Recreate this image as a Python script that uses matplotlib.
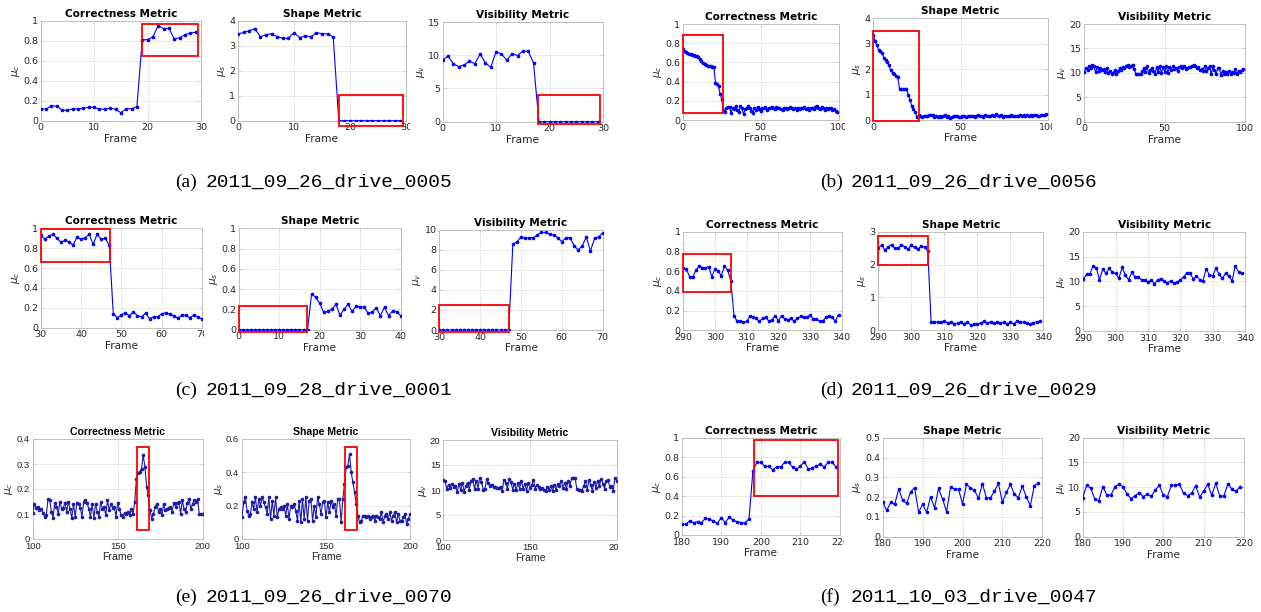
import numpy as np
import matplotlib
matplotlib.use('Agg')
import matplotlib.pyplot as plt
from matplotlib.patches import Rectangle
from matplotlib.ticker import FuncFormatter
from matplotlib.transforms import Bbox

W, H = 1261, 612

# (a) 2011_09_26_drive_0005, frames 0..29
a_corr = [0.12, 0.115, 0.15, 0.145, 0.105, 0.105, 0.12, 0.115, 0.125, 0.135,
          0.135, 0.115, 0.115, 0.125, 0.115, 0.08, 0.12, 0.12, 0.14, 0.81,
          0.81, 0.84, 0.95, 0.92, 0.925, 0.815, 0.83, 0.86, 0.875, 0.885]
a_shape = [3.47, 3.53, 3.6, 3.68, 3.36, 3.44, 3.48, 3.36, 3.3, 3.3,
           3.52, 3.32, 3.4, 3.35, 3.52, 3.48, 3.47, 3.35, 0, 0,
           0, 0, 0, 0, 0, 0, 0, 0, 0, 0]
a_vis = [9.25, 9.9, 8.7, 8.3, 8.5, 9.15, 8.7, 10.2, 8.8, 8.2,
         10.55, 10.2, 9.25, 10.25, 9.95, 10.6, 10.6, 8.85, 0, 0,
         0, 0, 0, 0, 0, 0, 0, 0, 0, 0]

# (b) 2011_09_26_drive_0056, frames 0..99
b_corr = [0.735, 0.72, 0.71, 0.70, 0.69, 0.685, 0.68, 0.675, 0.67, 0.665,
          0.66, 0.64, 0.61, 0.59, 0.58, 0.57, 0.565, 0.56, 0.56, 0.555,
          0.55, 0.39, 0.37, 0.35, 0.27, 0.22, 0.10, 0.08, 0.12, 0.14,
          0.14, 0.07, 0.13, 0.11, 0.145, 0.10, 0.08, 0.145, 0.12, 0.06,
          0.11, 0.13, 0.15, 0.12, 0.09, 0.07, 0.12, 0.10, 0.14, 0.11,
          0.09, 0.13, 0.12, 0.14, 0.10, 0.13, 0.12, 0.14, 0.13, 0.11,
          0.14, 0.12, 0.13, 0.11, 0.10, 0.12, 0.13, 0.11, 0.12, 0.14,
          0.12, 0.11, 0.13, 0.10, 0.12, 0.11, 0.13, 0.12, 0.14, 0.11,
          0.12, 0.10, 0.13, 0.12, 0.11, 0.14, 0.15, 0.12, 0.11, 0.14,
          0.13, 0.10, 0.12, 0.11, 0.13, 0.12, 0.10, 0.11, 0.09, 0.08]
b_shape = [3.35, 3.10, 2.95, 2.75, 2.70, 2.65, 2.45, 2.35, 2.30, 2.15,
           1.95, 1.85, 1.80, 1.72, 1.70, 1.22, 1.22, 1.22, 1.20, 1.20,
           1.00, 0.80, 0.55, 0.42, 0.30, 0.10, 0.18, 0.15, 0.12, 0.16,
           0.14, 0.15, 0.18, 0.20, 0.19, 0.12, 0.14, 0.13, 0.15, 0.10,
           0.14, 0.18, 0.12, 0.16, 0.08, 0.13, 0.17, 0.14, 0.15, 0.12,
           0.10, 0.14, 0.16, 0.13, 0.15, 0.17, 0.14, 0.16, 0.12, 0.15,
           0.18, 0.14, 0.16, 0.13, 0.19, 0.15, 0.17, 0.14, 0.20, 0.16,
           0.22, 0.18, 0.15, 0.19, 0.13, 0.16, 0.14, 0.17, 0.15, 0.18,
           0.16, 0.14, 0.17, 0.15, 0.18, 0.16, 0.19, 0.17, 0.20, 0.15,
           0.18, 0.16, 0.19, 0.21, 0.17, 0.15, 0.18, 0.20, 0.19, 0.22]
b_vis = [10.2, 10.9, 10.5, 11.4, 11.0, 11.6, 11.4, 10.1, 11.2, 10.4,
         11.0, 10.6, 10.8, 10.1, 10.9, 9.9, 10.3, 9.7, 10.0, 10.5,
         9.8, 10.3, 10.9, 10.6, 11.2, 10.9, 11.3, 11.6, 11.2, 11.5,
         11.6, 10.8, 9.8, 9.8, 9.8, 9.7, 10.4, 10.9, 10.2, 11.3,
         9.9, 10.6, 11.0, 10.3, 9.8, 11.1, 10.2, 11.3, 9.9, 11.2,
         10.1, 11.4, 10.0, 11.2, 10.6, 11.4, 10.8, 11.0, 10.4, 11.1,
         11.3, 10.9, 11.4, 10.7, 11.0, 11.2, 11.1, 11.5, 11.6, 11.3,
         11.0, 11.1, 10.5, 10.8, 10.4, 11.5, 10.3, 10.9, 11.4, 9.7,
         11.3, 10.5, 9.8, 10.9, 11.0, 9.6, 10.4, 9.7, 10.1, 9.8,
         10.3, 9.7, 10.2, 9.9, 10.7, 9.8, 10.4, 10.1, 10.5, 10.7]

# (c) 2011_09_28_drive_0001, frames 30..70 (shape 0..40)
c_corr = [0.93, 0.89, 0.92, 0.94, 0.90, 0.86, 0.88, 0.866, 0.83, 0.91,
          0.89, 0.906, 0.94, 0.84, 0.94, 0.89, 0.90, 0.83, 0.14, 0.10,
          0.13, 0.15, 0.12, 0.16, 0.12, 0.11, 0.145, 0.09, 0.11, 0.11,
          0.14, 0.15, 0.135, 0.12, 0.095, 0.125, 0.125, 0.10, 0.13, 0.105,
          0.09]
c_shape = [0, 0, 0, 0, 0, 0, 0, 0, 0, 0,
           0, 0, 0, 0, 0, 0, 0, 0, 0.355, 0.32,
           0.26, 0.17, 0.18, 0.2, 0.25, 0.145, 0.2, 0.25, 0.18, 0.234,
           0.224, 0.224, 0.16, 0.178, 0.21, 0.138, 0.224, 0.138, 0.184, 0.178,
           0.138]
c_vis = [0, 0, 0, 0, 0, 0, 0, 0, 0, 0,
         0, 0, 0, 0, 0, 0, 0, 0, 8.54, 8.8,
         9.27, 9.14, 9.2, 9.2, 9.47, 9.73, 9.73, 9.53, 9.47, 9.2,
         8.8, 9.2, 9.2, 8.4, 7.97, 8.4, 9.27, 7.87, 9.14, 9.3,
         9.67]

# (d) 2011_09_26_drive_0029, frames 290..339
d_corr = [0.63, 0.62, 0.54, 0.54, 0.61, 0.65, 0.635, 0.635, 0.645, 0.545,
          0.62, 0.60, 0.555, 0.65, 0.61, 0.50, 0.15, 0.09, 0.09, 0.085,
          0.09, 0.14, 0.13, 0.12, 0.09, 0.12, 0.13, 0.095, 0.105, 0.15,
          0.095, 0.15, 0.115, 0.105, 0.12, 0.09, 0.12, 0.14, 0.13, 0.13,
          0.155, 0.115, 0.115, 0.095, 0.095, 0.13, 0.15, 0.13, 0.095, 0.16]
d_shape = [2.51, 2.59, 2.44, 2.54, 2.61, 2.49, 2.49, 2.61, 2.54, 2.46,
           2.59, 2.52, 2.46, 2.57, 2.52, 2.42, 0.24, 0.24, 0.26, 0.24,
           0.28, 0.21, 0.26, 0.19, 0.22, 0.25, 0.2, 0.24, 0.17, 0.18,
           0.19, 0.22, 0.27, 0.21, 0.26, 0.23, 0.24, 0.22, 0.24, 0.18,
           0.24, 0.2, 0.27, 0.25, 0.25, 0.21, 0.19, 0.23, 0.26, 0.27]
d_vis = [10.4, 11.4, 11.4, 13.1, 12.75, 10.3, 12.5, 11.6, 12.6, 11.8,
         11.6, 10.6, 12.8, 11.3, 10.3, 11.8, 10.9, 10.9, 10.3, 10.2,
         9.8, 10.3, 9.5, 10.3, 10.5, 10.1, 9.7, 10.1, 9.7, 9.8,
         10.3, 10.9, 11.7, 11.7, 10.4, 11.1, 10.3, 10.1, 12.5, 11.3,
         11.1, 12.6, 11.4, 10.6, 11.6, 11.1, 10.1, 13.1, 11.9, 11.7]

# (e) 2011_09_26_drive_0070, frames 100..200
e_corr = [0.105, 0.14, 0.125, 0.13, 0.115, 0.12, 0.105, 0.09, 0.095, 0.16,
          0.155, 0.11, 0.085, 0.145, 0.13, 0.10, 0.15, 0.12, 0.125, 0.145,
          0.11, 0.15, 0.12, 0.085, 0.14, 0.09, 0.145, 0.14, 0.125, 0.09,
          0.15, 0.155, 0.145, 0.12, 0.09, 0.14, 0.085, 0.14, 0.11, 0.09,
          0.15, 0.12, 0.13, 0.095, 0.155, 0.115, 0.14, 0.125, 0.13, 0.09,
          0.145, 0.12, 0.095, 0.09, 0.105, 0.10, 0.11, 0.095, 0.12, 0.10,
          0.147, 0.24, 0.265, 0.27, 0.28, 0.335, 0.29, 0.21, 0.175, 0.115,
          0.08, 0.10, 0.13, 0.14, 0.11, 0.12, 0.095, 0.14, 0.115, 0.12,
          0.125, 0.13, 0.11, 0.145, 0.13, 0.145, 0.15, 0.10, 0.155, 0.12,
          0.11, 0.145, 0.16, 0.12, 0.14, 0.155, 0.15, 0.16, 0.10, 0.10,
          0.10]
e_shape = [0.13, 0.22, 0.25, 0.17, 0.14, 0.15, 0.22, 0.18, 0.25, 0.16,
           0.24, 0.20, 0.25, 0.22, 0.19, 0.15, 0.25, 0.12, 0.23, 0.14,
           0.25, 0.13, 0.18, 0.19, 0.18, 0.20, 0.14, 0.21, 0.12, 0.20,
           0.19, 0.21, 0.17, 0.11, 0.23, 0.10, 0.24, 0.12, 0.25, 0.11,
           0.23, 0.24, 0.11, 0.20, 0.13, 0.25, 0.21, 0.15, 0.22, 0.23,
           0.13, 0.22, 0.16, 0.23, 0.19, 0.21, 0.14, 0.24, 0.24, 0.10,
           0.24, 0.33, 0.43, 0.44, 0.51, 0.40, 0.34, 0.28, 0.21, 0.14,
           0.10, 0.11, 0.14, 0.14, 0.13, 0.14, 0.12, 0.13, 0.14, 0.11,
           0.14, 0.13, 0.12, 0.16, 0.10, 0.14, 0.15, 0.12, 0.16, 0.11,
           0.14, 0.16, 0.10, 0.15, 0.11, 0.11, 0.13, 0.15, 0.09, 0.12,
           0.15]
e_vis = [12.0, 11.9, 10.2, 11.1, 10.5, 11.3, 10.6, 10.9, 9.6, 11.3,
         10.0, 11.5, 9.7, 10.8, 11.5, 10.1, 11.8, 12.2, 10.2, 11.9,
         10.3, 12.5, 11.7, 10.1, 10.3, 12.2, 11.4, 10.9, 11.1, 10.6,
         10.7, 10.5, 10.5, 10.7, 9.9, 12.1, 11.4, 10.3, 12.2, 11.6,
         10.1, 11.3, 10.0, 11.4, 10.3, 11.9, 10.2, 11.3, 9.9, 11.4,
         10.4, 11.0, 12.1, 10.3, 11.1, 10.6, 10.2, 10.5, 10.0, 9.8,
         10.7, 10.1, 10.9, 9.8, 11.1, 10.0, 11.2, 10.8, 11.9, 10.4,
         11.5, 10.2, 11.9, 10.8, 12.4, 12.5, 12.5, 10.2, 10.0, 10.0,
         9.9, 10.8, 11.9, 10.0, 12.1, 11.0, 9.8, 11.7, 10.4, 11.9,
         10.8, 12.3, 11.3, 10.3, 11.8, 12.0, 10.6, 10.9, 9.9, 12.4,
         11.9]

# (f) 2011_10_03_drive_0047, frames 180..219
f_corr = [0.11, 0.11, 0.145, 0.127, 0.137, 0.127, 0.171, 0.164, 0.144, 0.12,
          0.178, 0.127, 0.185, 0.15, 0.137, 0.127, 0.127, 0.164, 0.66, 0.746,
          0.746, 0.705, 0.705, 0.67, 0.70, 0.70, 0.746, 0.746, 0.70, 0.675,
          0.71, 0.753, 0.675, 0.69, 0.71, 0.726, 0.70, 0.746, 0.746, 0.70]
f_shape = [0.177, 0.133, 0.173, 0.163, 0.24, 0.185, 0.168, 0.227, 0.247, 0.123,
           0.163, 0.123, 0.202, 0.146, 0.244, 0.19, 0.126, 0.249, 0.24, 0.24,
           0.165, 0.264, 0.247, 0.234, 0.194, 0.268, 0.194, 0.197, 0.23, 0.27,
           0.173, 0.224, 0.264, 0.215, 0.197, 0.256, 0.2, 0.157, 0.258, 0.27]
f_vis = [7.9, 10.4, 9.8, 7.6, 7.3, 10.1, 8.4, 8.4, 10.1, 10.6,
         10.1, 8.6, 7.7, 8.3, 8.9, 8.1, 8.55, 8.2, 9.4, 10.4,
         8.4, 8.1, 10.4, 10.4, 10.6, 8.75, 8.3, 8.75, 10.3, 8.0,
         9.2, 10.6, 8.4, 10.8, 8.2, 8.2, 10.7, 9.6, 9.2, 10.1]

# highlighted regions (x0, x1, y0, y1) in data units
a_boxes = [(19, 29.4, 0.65, 0.97), (18, 29.5, -0.2, 1.03), (17.8, 29.4, -0.3, 4.05)]
b_boxes = [(0, 25.6, 0.07, 0.89), (0, 26.3, -0.03, 3.49), None]
c_boxes = [(30, 47.2, 0.66, 0.99), (0, 16.9, -0.026, 0.237), (30, 47, -0.23, 2.49)]
d_boxes = [(290, 305.2, 0.39, 0.777), (290, 305.2, 1.99, 2.88), None]
e_boxes = [(161.6, 168.2, 0.035, 0.37), (161.5, 168.3, 0.054, 0.554), None]
f_boxes = [(198.2, 219.6, 0.397, 0.98), None, None]

captions = [('(a)', '2011_09_26_drive_0005'), ('(b)', '2011_09_26_drive_0056'),
            ('(c)', '2011_09_28_drive_0001'), ('(d)', '2011_09_26_drive_0029'),
            ('(e)', '2011_09_26_drive_0070'), ('(f)', '2011_10_03_drive_0047')]

titles = ['Correctness Metric', 'Shape Metric', 'Visibility Metric']
ylabels = [r'$\mu_c$', r'$\mu_s$', r'$\mu_v$']


def fmt(v, pos):
    return '%g' % round(v, 6)


def panel(fig, box, y, x0, xticks, yticks, rbox, clip=None, color='#0000ff', font='DejaVu Sans', k=0):
    l, t, r, b = box
    ax = fig.add_axes([l / W, 1 - b / H, (r - l) / W, (b - t) / H])
    x = x0 + np.arange(len(y))
    ax.plot(x, y, '-', color=color, lw=0.8, marker='.', ms=3.2, zorder=3)
    ax.set_xlim(xticks[0], xticks[-1])
    ax.set_ylim(yticks[0], yticks[-1])
    ax.set_xticks(xticks)
    ax.set_yticks(yticks)
    ax.xaxis.set_major_formatter(FuncFormatter(fmt))
    ax.yaxis.set_major_formatter(FuncFormatter(fmt))
    ax.grid(True, color='#e6e6e6', lw=0.6)
    ax.set_axisbelow(True)
    for s in ax.spines.values():
        s.set_color('#c0c0c0')
        s.set_linewidth(0.7)
    ax.tick_params(direction='in', length=2, width=0.5, color='#c0c0c0',
                   labelcolor='#262626', labelsize=6.8, pad=2, top=True, right=True)
    for lab in ax.get_xticklabels() + ax.get_yticklabels():
        lab.set_family(font)
    ax.set_title(titles[k], fontsize=7.6, fontweight='bold', pad=3, family=font)
    ax.set_xlabel('Frame', fontsize=7.6, labelpad=1, color='#262626', family=font)
    ax.set_ylabel(ylabels[k], fontsize=7.6, labelpad=1, color='#262626')
    if rbox is not None:
        ax.add_patch(Rectangle((rbox[0], rbox[2]), rbox[1] - rbox[0], rbox[3] - rbox[2],
                               fill=False, ec='#ff0000', lw=1.3, clip_on=False, zorder=5))
    if clip is not None:
        for lab in ax.get_xticklabels():
            lab.set_clip_box(Bbox([[0, 0], [clip, H]]))
            lab.set_clip_on(True)
    return ax


fig = plt.figure(figsize=(W / 100, H / 100), dpi=100)

# (a)
panel(fig, (40.7, 20.7, 201, 120.7), a_corr, 0, [0, 10, 20, 30], [0, 0.2, 0.4, 0.6, 0.8, 1], a_boxes[0], k=0)
panel(fig, (238, 20.7, 406, 120.7), a_shape, 0, [0, 10, 20, 30], [0, 1, 2, 3, 4], a_boxes[1], clip=410, k=1)
panel(fig, (442.7, 22, 603, 121.7), a_vis, 0, [0, 10, 20, 30], [0, 5, 10, 15], a_boxes[2], k=2)
# (b)
panel(fig, (682.7, 24, 838.7, 120), b_corr, 0, [0, 50, 100], [0, 0.2, 0.4, 0.6, 0.8, 1], b_boxes[0], clip=845, k=0)
panel(fig, (873.3, 18.3, 1048, 120), b_shape, 0, [0, 50, 100], [0, 1, 2, 3, 4], b_boxes[1], clip=1052, k=1)
panel(fig, (1084.3, 24, 1245, 121.7), b_vis, 0, [0, 50, 100], [0, 5, 10, 15, 20], b_boxes[2], k=2)
# (c)
panel(fig, (40.7, 228.3, 202, 327.7), c_corr, 30, [30, 40, 50, 60, 70], [0, 0.2, 0.4, 0.6, 0.8, 1], c_boxes[0], clip=204, k=0)
panel(fig, (238.7, 228.3, 400.7, 329.7), c_shape, 0, [0, 10, 20, 30, 40], [0, 0.2, 0.4, 0.6, 0.8, 1], c_boxes[1], k=1)
panel(fig, (439.3, 229.7, 602.7, 330), c_vis, 30, [30, 40, 50, 60, 70], [0, 2, 4, 6, 8, 10], c_boxes[2], k=2)
# (d)
dx = [290, 300, 310, 320, 330, 340]
panel(fig, (683.3, 231.7, 841.7, 330.3), d_corr, 290, dx, [0, 0.2, 0.4, 0.6, 0.8, 1], d_boxes[0], k=0)
panel(fig, (878.3, 231.7, 1043.3, 330.3), d_shape, 290, dx, [0, 1, 2, 3], d_boxes[1], k=1)
panel(fig, (1083.3, 231.7, 1245, 331), d_vis, 290, dx, [0, 5, 10, 15, 20], d_boxes[2], k=2)
# (e)
ex = [100, 150, 200]
navy = '#1c1ca8'
panel(fig, (32.7, 439, 202.7, 539), e_corr, 100, ex, [0, 0.1, 0.2, 0.3, 0.4], e_boxes[0], color=navy, font='Liberation Sans', k=0)
panel(fig, (242, 439, 410, 539), e_shape, 100, ex, [0, 0.2, 0.4, 0.6], e_boxes[1], color=navy, font='Liberation Sans', k=1)
panel(fig, (443.3, 440, 616.7, 540), e_vis, 100, ex, [0, 5, 10, 15, 20], e_boxes[2], clip=618, color=navy, font='Liberation Sans', k=2)
# (f)
fx = [180, 190, 200, 210, 220]
panel(fig, (681.7, 437.7, 840, 535), f_corr, 180, fx, [0, 0.2, 0.4, 0.6, 0.8, 1], f_boxes[0], clip=844, k=0)
panel(fig, (882.7, 437.7, 1042.3, 536.7), f_shape, 180, fx, [0, 0.1, 0.2, 0.3, 0.4, 0.5], f_boxes[1], k=1)
panel(fig, (1082.7, 437.7, 1244, 536.7), f_vis, 180, fx, [0, 5, 10, 15, 20], f_boxes[2], k=2)

# captions
cap_pos = [(175, 182), (820, 182), (175, 390), (820, 390), (175, 597), (820, 597)]
for (tag, name), (cx, cy) in zip(captions, cap_pos):
    fig.text(cx / W, 1 - cy / H, tag, family='Liberation Serif', fontsize=14, va='center', ha='left')
    fig.text((cx + 31) / W, 1 - cy / H, name, family='Liberation Mono', fontsize=14, va='center', ha='left')

fig.savefig('out.png', dpi=100)
